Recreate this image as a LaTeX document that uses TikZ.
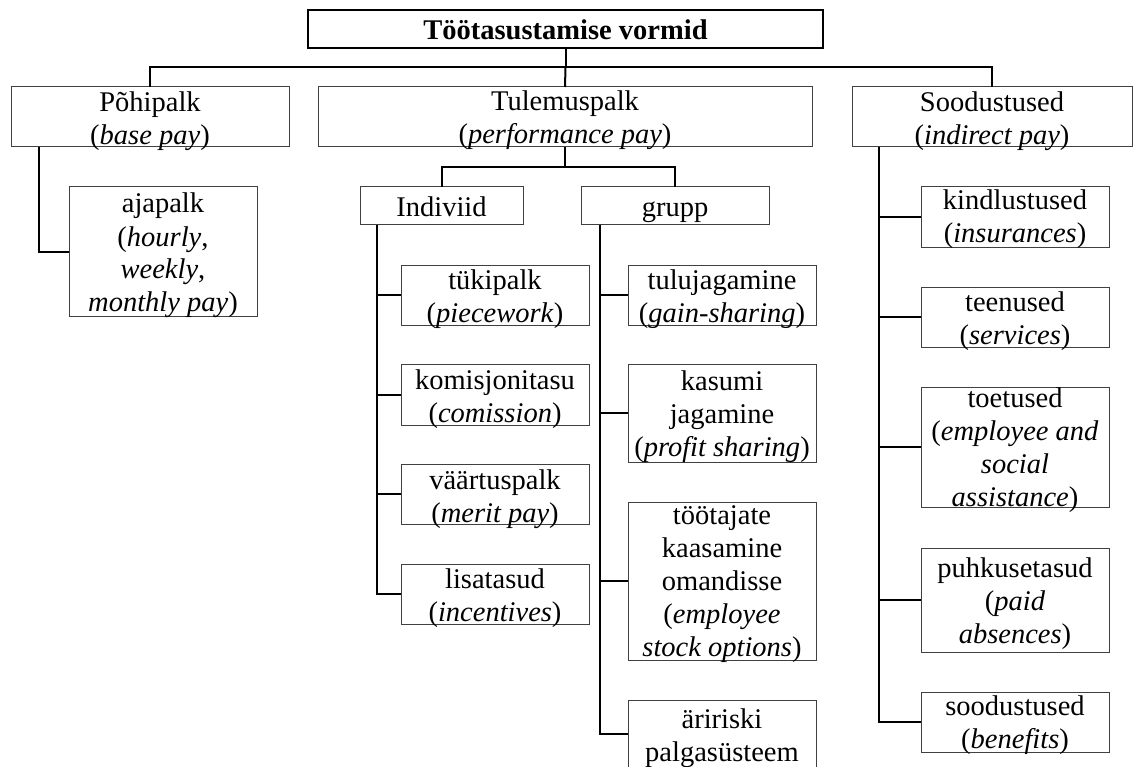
\documentclass[tikz,border=0pt]{standalone}
\usepackage{fontspec}
\setmainfont{Liberation Serif}
\usepackage{tikz}
\definecolor{bordo}{HTML}{404040}

% testo di un riquadro: larghezza, altezza, testo (prima riga a #1 dal bordo)
\newcommand{\testo}[4][25]{\parbox[c][#3pt][t]{#2pt}{\centering\rule{0pt}{#1pt}#4}}

\begin{document}
\begin{tikzpicture}[x=1pt, y=-1pt,
    font=\fontsize{28.5}{33}\selectfont,
    riq/.style={draw=bordo, line width=1pt, inner sep=0pt, outer sep=0pt, anchor=north west},
    lin/.style={line width=2pt},
    ]
    \useasboundingbox (0,0) rectangle (1139,767);
    \clip (0,0) rectangle (1139,767);
    % titolo
    \node[riq, draw=black, line width=2.6pt] (tit) at (308,10) {\testo[30]{515}{38}{\textbf{Töötasustamise vormid}}};
    % primo livello
    \node[riq] (pohi) at (11,87)  {\testo{278}{60}{Põhipalk\\(\emph{base pay})}};
    \node[riq] (tule) at (318,87) {\testo[24]{494}{60}{Tulemuspalk\\(\emph{performance pay})}};
    \node[riq] (sood) at (852,87) {\testo{280}{60}{Soodustused\\(\emph{indirect pay})}};
    % pohipalk
    \node[riq] (aja) at (69,187) {\testo[26]{188}{129}{ajapalk\\(\emph{hourly},\\\emph{weekly},\\\emph{monthly pay})}};
    % tulemuspalk
    \node[riq] (indi) at (360,187) {\testo[30]{163}{38}{Indiviid}};
    \node[riq] (grup) at (581,187) {\testo[30]{188}{38}{grupp}};
    \node[riq] (tyki) at (401,265) {\testo[24]{188}{60}{tükipalk\\(\emph{piecework})}};
    \node[riq] (komi) at (401,364) {\testo{188}{61}{komisjonitasu\\(\emph{comission})}};
    \node[riq] (vaar) at (401,464) {\testo{188}{60}{väärtuspalk\\(\emph{merit pay})}};
    \node[riq] (lisa) at (401,564) {\testo[24]{188}{60}{lisatasud\\(\emph{incentives})}};
    \node[riq] (tulu) at (628,265) {\testo[24]{188}{60}{tulujagamine\\(\emph{gain-sharing})}};
    \node[riq] (kasu) at (628,364) {\testo[26.5]{188}{98}{kasumi\\jagamine\\(\emph{profit sharing})}};
    \node[riq] (toot) at (628,502) {\testo[22]{188}{158}{töötajate\\kaasamine\\omandisse\\(\emph{employee}\\\emph{stock options})}};
    \node[riq] (arir) at (628,700) {\testo[28]{188}{68}{äririski\\palgasüsteem}};
    % soodustused
    \node[riq] (kind) at (921,187) {\testo[23]{188}{60}{kindlustused\\(\emph{insurances})}};
    \node[riq] (teen) at (921,287) {\testo[24]{188}{60}{teenused\\(\emph{services})}};
    \node[riq] (toet) at (921,387) {\testo[20]{188}{120}{toetused\\(\emph{employee and}\\\emph{social}\\\emph{assistance})}};
    \node[riq] (puhk) at (921,548) {\testo[29]{188}{104}{puhkusetasud\\(\emph{paid}\\\emph{absences})}};
    \node[riq] (soo2) at (921,692) {\testo[23]{188}{60}{soodustused\\(\emph{benefits})}};
    % collegamenti
    \draw[lin] (tit.south) -- ++(0,19) coordinate (bus);
    \draw[lin] (bus) -| (pohi.north);
    \draw[lin] (bus) -| (sood.north);
    \draw[lin] (bus) -- (tule.north);
    \draw[lin] ([xshift=28pt]pohi.south west) |- (aja.west);
    \draw[lin] (tule.south) -- ++(0,20) coordinate (nodo);
    \draw[lin] (nodo) -| (indi.north);
    \draw[lin] (nodo) -| (grup.north);
    \foreach \f in {tyki,komi,vaar,lisa}
        \draw[lin] ([xshift=17pt]indi.south west) |- (\f.west);
    \foreach \f in {tulu,kasu,toot,arir}
        \draw[lin] ([xshift=19pt]grup.south west) |- (\f.west);
    \foreach \f in {kind,teen,toet,puhk,soo2}
        \draw[lin] ([xshift=27pt]sood.south west) |- (\f.west);
\end{tikzpicture}
\end{document}
